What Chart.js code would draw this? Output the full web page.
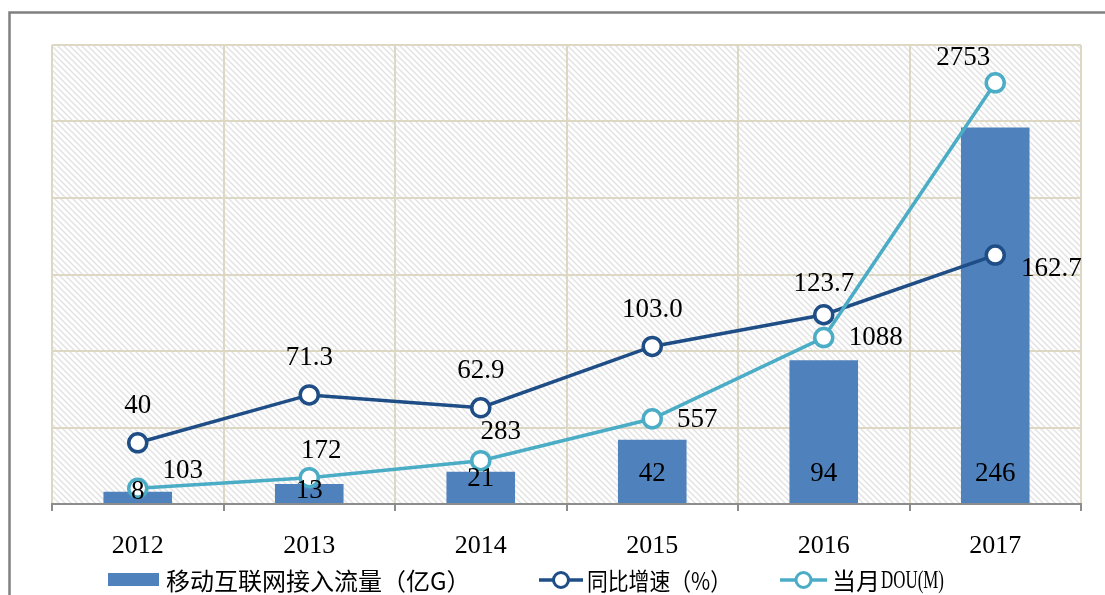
<!DOCTYPE html>
<html>
<head>
<meta charset="utf-8">
<script src="https://cdn.jsdelivr.net/npm/chart.js@4.4.1/dist/chart.umd.min.js"></script>
<style>
html,body{margin:0;padding:0;background:#fff;}
canvas{display:block;}
</style>
</head>
<body>
<canvas id="c" width="1105" height="595"></canvas>
<script>
// ---- data ----
const categories = ['2012', '2013', '2014', '2015', '2016', '2017'];
const traffic = [8, 13, 21, 42, 94, 246];                       // 移动互联网接入流量（亿G）
const growth = ['40', '71.3', '62.9', '103.0', '123.7', '162.7']; // 同比增速（%）
const dou = [103, 172, 283, 557, 1088, 2753];                    // 当月DOU(M)
const seriesNames = ['移动互联网接入流量（亿G）', '同比增速（%）', '当月DOU(M)'];

// ---- styles ----
const BAR = '#4F81BD', DARK = '#1F4E86', LIGHT = '#4BACC6';
const GRID = '#DDD8C3', AXIS = '#8C8C8C';
const NUMFONT = "'Liberation Serif', 'DejaVu Serif', serif";
const CJKFONT = "'Noto Sans CJK SC', sans-serif";

function makeHatch() {
  const n = 6, c = document.createElement('canvas');
  c.width = n; c.height = n;
  const g = c.getContext('2d');
  g.fillStyle = '#ffffff'; g.fillRect(0, 0, n, n);
  g.strokeStyle = '#E3E3E3'; g.lineWidth = 1.5;
  g.beginPath();
  g.moveTo(-1, -1); g.lineTo(n + 1, n + 1);
  g.moveTo(-1, n - 1); g.lineTo(1, n + 1);
  g.moveTo(n - 1, -1); g.lineTo(n + 1, 1);
  g.stroke();
  return c;
}

const backgroundPlugin = {
  id: 'bg',
  beforeDraw(chart) {
    const ctx = chart.ctx, a = chart.chartArea;
    ctx.save();
    ctx.fillStyle = '#fff';
    ctx.fillRect(0, 0, chart.width, chart.height);
    ctx.strokeStyle = '#808080'; ctx.lineWidth = 2.5;
    ctx.strokeRect(9.5, 12.5, 1300, 800);
    ctx.fillStyle = ctx.createPattern(makeHatch(), 'repeat');
    ctx.fillRect(a.left, a.top, a.right - a.left, a.bottom - a.top);
    ctx.restore();
  }
};

// label offsets (dx, dy). bars: relative to bar base; lines: relative to point
const labelOffsets = [
  [[0, -11], [0, -12], [0, -24], [0, -29], [0, -29], [0, -29]],
  [[0, -37], [0, -37], [0, -37], [0, -37], [0, -31], [56, 14]],
  [[45, -17], [12, -27], [20, -29], [45, 1], [52, 0], [-32, -25]]
];

const labelPlugin = {
  id: 'vlabels',
  afterDatasetsDraw(chart) {
    const ctx = chart.ctx;
    ctx.save();
    ctx.font = '27px ' + NUMFONT;
    ctx.fillStyle = '#000';
    ctx.textAlign = 'center';
    ctx.textBaseline = 'middle';
    chart.data.datasets.forEach((ds, di) => {
      const meta = chart.getDatasetMeta(di);
      meta.data.forEach((el, i) => {
        const off = labelOffsets[di][i];
        const y0 = ds.type === 'bar' ? el.base : el.y;
        ctx.fillText(String(ds.data[i]), el.x + off[0], y0 + off[1]);
      });
    });
    ctx.restore();
  }
};

const legendPlugin = {
  id: 'customLegend',
  afterDraw(chart) {
    const ctx = chart.ctx, cy = 580;
    ctx.save();
    // bar entry
    ctx.fillStyle = BAR;
    ctx.fillRect(108, 573, 51, 13);
    // line entries
    [[539, 583, DARK], [780, 827, LIGHT]].forEach(([x0, x1, col]) => {
      ctx.strokeStyle = col; ctx.lineWidth = 3.5;
      ctx.beginPath(); ctx.moveTo(x0, cy); ctx.lineTo(x1, cy); ctx.stroke();
      ctx.beginPath(); ctx.arc((x0 + x1) / 2, cy, 7.5, 0, Math.PI * 2);
      ctx.fillStyle = '#fff'; ctx.fill();
      ctx.lineWidth = 3; ctx.stroke();
    });
    ctx.fillStyle = '#000';
    ctx.textAlign = 'left';
    ctx.textBaseline = 'middle';
    ctx.font = '24px ' + CJKFONT;
    ctx.fillText(seriesNames[0], 166, cy + 1, 318);
    ctx.fillText(seriesNames[1], 587, cy + 1, 144);
    // third entry: CJK part + narrow latin part
    const cjk = seriesNames[2].slice(0, 2), lat = seriesNames[2].slice(2);
    ctx.fillText(cjk, 832, cy + 1, 48);
    ctx.font = '25px ' + NUMFONT;
    ctx.fillText(lat, 881, cy + 1, 63);
    ctx.restore();
  }
};

new Chart(document.getElementById('c'), {
  data: {
    labels: categories,
    datasets: [
      { type: 'bar', label: seriesNames[0], data: traffic, yAxisID: 'y',
        backgroundColor: BAR, barPercentage: 0.4, categoryPercentage: 1.0, order: 3 },
      { type: 'line', label: seriesNames[1], data: growth, yAxisID: 'y',
        borderColor: DARK, borderWidth: 3.5, pointRadius: 9, pointBorderWidth: 3.5,
        pointBackgroundColor: '#fff', pointBorderColor: DARK, tension: 0, order: 2 },
      { type: 'line', label: seriesNames[2], data: dou, yAxisID: 'y2',
        borderColor: LIGHT, borderWidth: 3.5, pointRadius: 9, pointBorderWidth: 3.5,
        pointBackgroundColor: '#fff', pointBorderColor: LIGHT, tension: 0, order: 1 }
    ]
  },
  options: {
    responsive: false,
    animation: false,
    devicePixelRatio: 1,
    layout: { padding: { left: 52, right: 24, top: 45, bottom: 31 } },
    plugins: { legend: { display: false }, tooltip: { enabled: false } },
    scales: {
      x: {
        offset: true,
        grid: { offset: true, color: GRID, lineWidth: 2, tickLength: 7, tickColor: AXIS, tickWidth: 2 },
        border: { color: AXIS, width: 2 },
        ticks: { color: '#000', font: { family: NUMFONT, size: 26 }, padding: 20, maxRotation: 0 },
        afterFit(s) { s.height = 60; }
      },
      y: {
        min: 0, max: 300,
        ticks: { display: false, stepSize: 50 },
        grid: { color: GRID, lineWidth: 2, drawTicks: false },
        border: { display: false },
        afterFit(s) { s.width = 0; }
      },
      y2: {
        min: 0, max: 3000, display: false
      }
    }
  },
  plugins: [backgroundPlugin, labelPlugin, legendPlugin]
});
</script>
</body>
</html>
